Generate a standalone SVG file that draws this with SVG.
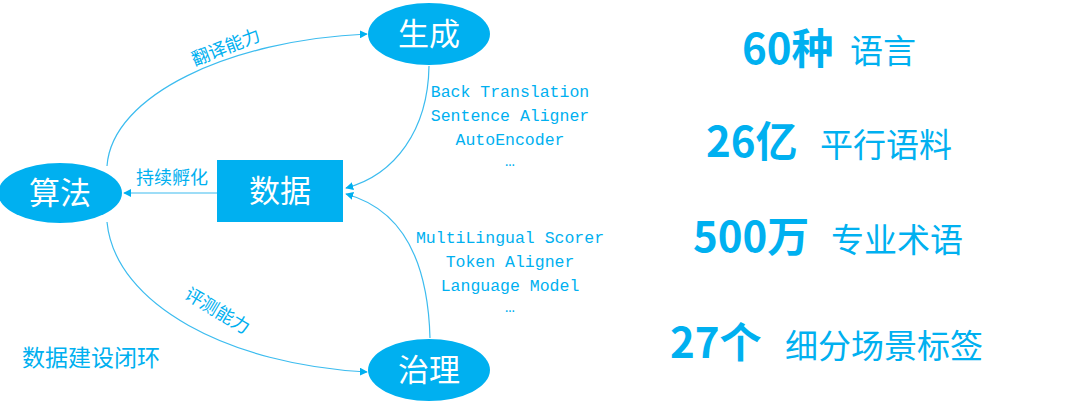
<svg xmlns="http://www.w3.org/2000/svg" width="1080" height="403" viewBox="0 0 1080 403">
<style>
.node{fill:#00b0f0}
.nt{fill:#fff;font-family:"Noto Sans CJK SC","Noto Sans",sans-serif;font-size:31px;text-anchor:middle}
.lbl{fill:#00b0f0;font-family:"Noto Sans CJK SC","Noto Sans",sans-serif;font-size:18px;text-anchor:middle}
.mono{fill:#00b0f0;font-family:"Liberation Mono","DejaVu Sans Mono",monospace;font-size:16.5px;text-anchor:middle}
.big{fill:#00b0f0;font-family:"Noto Sans CJK SC","Noto Sans",sans-serif;font-size:42px;font-weight:bold}
.sub{fill:#00b0f0;font-family:"Noto Sans CJK SC","Noto Sans",sans-serif;font-size:33px}
.edge{fill:none;stroke:#3cbcef;stroke-width:1.2;marker-end:url(#ah)}
</style>
<defs>
<marker id="ah" viewBox="0 0 10 10" refX="9" refY="5" markerWidth="8" markerHeight="8" markerUnits="userSpaceOnUse" orient="auto">
<path d="M0,0 L10,5 L0,10 z" fill="#00b0f0"/>
</marker>
</defs>
<rect width="1080" height="403" fill="#fff"/>
<g id="connectors">
<path class="edge" d="M107,166 C112,95 230,40 367,34"/>
<path class="edge" d="M429,66 C428,130 395,175 346,188"/>
<path class="edge" d="M430,338 C428,265 405,210 346,194"/>
<path class="edge" d="M217,193 L124,193"/>
<path class="edge" d="M107,222 C115,305 230,365 367,372"/>
<text class="lbl" transform="translate(228,53) rotate(-21)">翻译能力</text>
<text class="lbl" x="172" y="184">持续孵化</text>
<text class="lbl" transform="translate(214,316) rotate(31)">评测能力</text>
</g>
<g id="node-shengcheng">
<ellipse class="node" cx="429" cy="34" rx="61" ry="31"/>
<text class="nt" x="429" y="45">生成</text>
</g>
<g id="node-suanfa">
<ellipse class="node" cx="60" cy="193" rx="62" ry="30"/>
<text class="nt" x="60" y="204">算法</text>
</g>
<g id="node-shuju">
<rect class="node" x="217" y="160" width="126" height="62"/>
<text class="nt" x="280" y="202">数据</text>
</g>
<g id="node-zhili">
<ellipse class="node" cx="429" cy="370" rx="61" ry="31"/>
<text class="nt" x="429" y="381">治理</text>
</g>
<g id="gen-methods">
<text class="mono" x="510" y="97">Back Translation</text>
<text class="mono" x="510" y="121">Sentence Aligner</text>
<text class="mono" x="510" y="145">AutoEncoder</text>
<text class="mono" x="510" y="166">…</text>
</g>
<g id="gov-methods">
<text class="mono" x="510" y="243">MultiLingual Scorer</text>
<text class="mono" x="510" y="267">Token Aligner</text>
<text class="mono" x="510" y="291">Language Model</text>
<text class="mono" x="510" y="312">…</text>
</g>
<text x="22" y="366" fill="#00b0f0" font-family="'Noto Sans CJK SC',sans-serif" font-size="23px">数据建设闭环</text>
<g id="stats">
<text class="big" x="742" y="64">60种</text>
<text class="sub" x="850" y="63">语言</text>
<text class="big" x="706" y="157">26亿</text>
<text class="sub" x="820" y="157">平行语料</text>
<text class="big" x="693" y="252">500万</text>
<text class="sub" x="831" y="252">专业术语</text>
<text class="big" x="670" y="358">27个</text>
<text class="sub" x="785" y="358">细分场景标签</text>
</g>
</svg>
